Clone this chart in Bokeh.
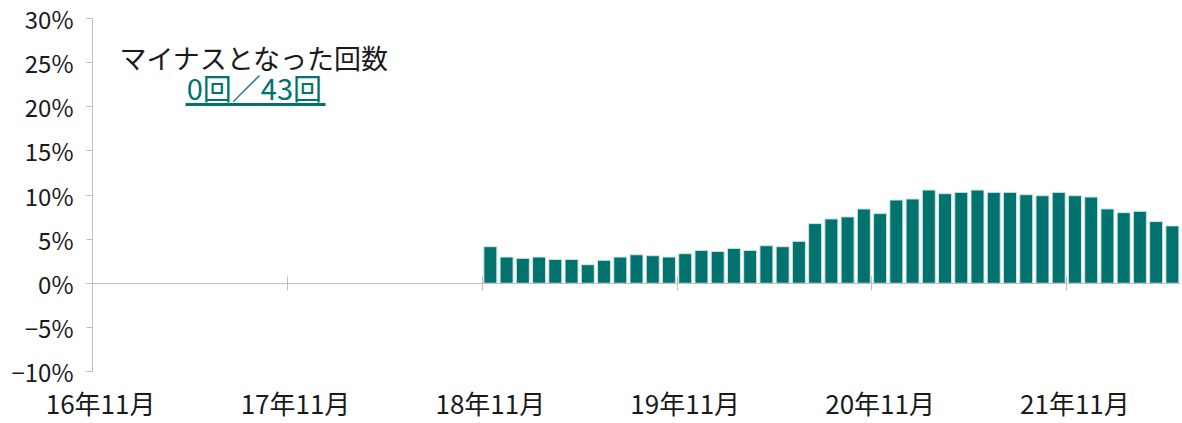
from bokeh.plotting import figure
from bokeh.models import FixedTicker, LinearAxis, Range1d, ColumnDataSource, Label, BoxAnnotation
from bokeh.embed import file_html
from bokeh.resources import INLINE

# month categories 16年11月 .. 22年5月
months = []
yy, mm = 16, 11
for _ in range(67):
    months.append(f"{yy}年{mm}月")
    mm += 1
    if mm > 12:
        mm = 1
        yy += 1

bar_months = months[24:]  # 18年11月 .. 22年5月 (43 months)
values = [4.14, 2.97, 2.82, 2.97, 2.70, 2.70, 2.10, 2.60, 2.97, 3.23,
          3.12, 2.97, 3.35, 3.72, 3.60, 3.95, 3.72, 4.25, 4.14, 4.75,
          6.76, 7.29, 7.52, 8.42, 7.89, 9.43, 9.55, 10.56, 10.15, 10.30,
          10.56, 10.30, 10.30, 10.03, 9.92, 10.30, 9.92, 9.77, 8.42, 8.00,
          8.15, 6.99, 6.50]

x_tick_labels = ["16年11月", "17年11月", "18年11月", "19年11月", "20年11月", "21年11月"]
y_ticks = [-10, -5, 0, 5, 10, 15, 20, 25, 30]
y_tick_labels = ["−10%", "−5%", "0%", "5%", "10%", "15%", "20%", "25%", "30%"]

title_text = "マイナスとなった回数"
count_text = "0回／43回"

TEAL = "#00736e"
GRAY = "#bfbfbf"
FONT = "Noto Sans CJK JP"
TXT = "#1a1a1a"

src = ColumnDataSource(dict(x=[months.index(m) for m in bar_months], v=values))

p = figure(width=1182, height=423, output_backend="svg", toolbar_location=None,
           x_range=Range1d(-0.5, 66.5), y_range=Range1d(-10, 30),
           min_border_left=92, min_border_right=2, min_border_top=18, min_border_bottom=50)
p.outline_line_color = None
p.xgrid.visible = False
p.ygrid.visible = False
p.background_fill_color = "white"

p.vbar(x="x", top="v", width=0.8, source=src, fill_color=TEAL, line_color="#cfe5e3", line_width=1)

# y axis
ya = p.yaxis[0]
ya.ticker = FixedTicker(ticks=y_ticks)
ya.major_label_overrides = {t: l for t, l in zip(y_ticks, y_tick_labels)}
ya.axis_line_color = GRAY
ya.major_tick_line_color = GRAY
ya.minor_tick_line_color = None
ya.major_tick_in = 0
ya.major_tick_out = 6
ya.major_label_text_font = FONT
ya.major_label_text_font_size = "24px"
ya.major_label_text_color = TXT
ya.major_label_standoff = 13

# x axis: labels at category centres
xa = p.xaxis[0]
label_pos = [months.index(l) for l in x_tick_labels]
xa.ticker = FixedTicker(ticks=label_pos)
xa.major_label_overrides = {t: l for t, l in zip(label_pos, x_tick_labels)}
xa.axis_line_color = None
xa.major_tick_line_color = None
xa.minor_tick_line_color = None
xa.major_tick_in = 0
xa.major_tick_out = 0
xa.major_label_text_font = FONT
xa.major_label_text_font_size = "26px"
xa.major_label_text_color = TXT
xa.major_label_standoff = 12

# zero line with tick marks between categories
bounds = [t - 0.5 for t in label_pos]
zax = LinearAxis(fixed_location=0, ticker=FixedTicker(ticks=bounds),
                 major_label_overrides={b: "" for b in bounds},
                 major_label_text_font_size="1px", major_label_standoff=0,
                 axis_line_color=GRAY, major_tick_line_color=GRAY,
                 minor_tick_line_color=None, major_tick_in=7, major_tick_out=7)
p.add_layout(zax, "above")

# annotation
p.add_layout(Label(x=9.47, y=25.55, text=title_text, text_align="center", text_baseline="middle",
                   text_font=FONT, text_font_size="27px", text_color=TXT))
p.add_layout(Label(x=9.47, y=22.22, text=count_text, text_align="center", text_baseline="middle",
                   text_font=FONT, text_font_size="29px", text_color=TEAL))
p.add_layout(BoxAnnotation(left=5.23, right=13.85, bottom=20.08, top=20.42,
                           fill_color=TEAL, fill_alpha=1, line_alpha=0))

open("out.html", "w").write(file_html(p, INLINE))
